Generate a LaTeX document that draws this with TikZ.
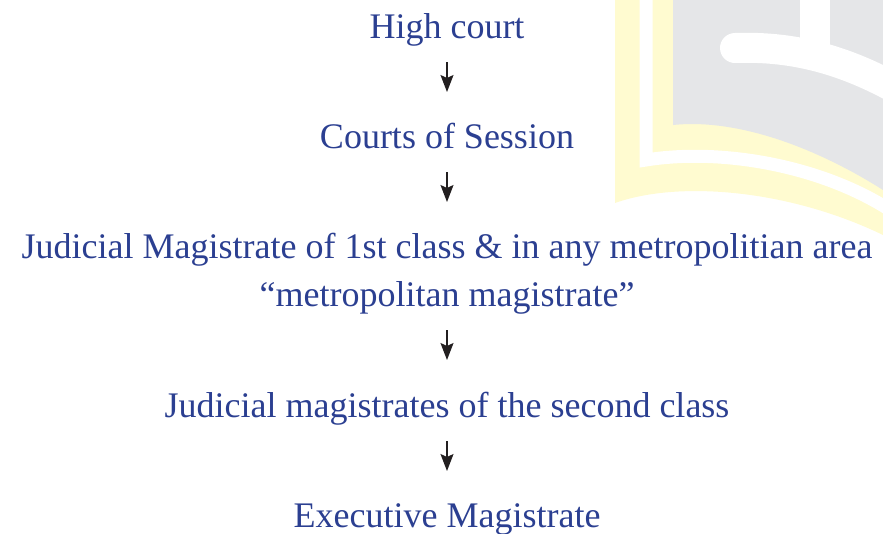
\documentclass[tikz,border=0pt]{standalone}
\usepackage{fontspec}
\setmainfont{Liberation Serif}
\usetikzlibrary{arrows.meta}
\definecolor{textblue}{RGB}{43,63,145}
\definecolor{arrowdark}{RGB}{35,31,32}
\definecolor{wmgray}{RGB}{229,230,232}
\definecolor{wmyellow}{RGB}{255,251,208}
\begin{document}
\begin{tikzpicture}[x=1pt,y=-1pt,
  level/.style={inner sep=0pt,anchor=base,text=textblue,font=\fontsize{36}{48}\selectfont,align=center},
  down/.style={draw=arrowdark,line width=1.4pt,-{Stealth[length=17pt,width=13pt,inset=3pt]}}]
\useasboundingbox (0,0) rectangle (883,533);
% faint emblem in the upper right corner
\begin{scope}
  \clip (0,0) rectangle (883,533);
  \fill[wmyellow] (615,0) -- (615,203) .. controls (680,180) and (790,190) .. (883,235) -- (883,0) -- cycle;
  \draw[white,line width=13pt] (646,-5) -- (646,160) .. controls (720,148) and (820,165) .. (890,210);
  \fill[wmgray] (673,0) -- (673,125) .. controls (740,118) and (820,150) .. (883,190) -- (883,0) -- cycle;
  \draw[white,line width=30pt,line cap=round] (735,48) .. controls (790,46) and (840,58) .. (895,88);
  \fill[white] (800,-1) rectangle (830,50);
\end{scope}
% court hierarchy; a two-line node sits on the baseline of its last line
\node[level] (hc) at (447,38) {High court};
\node[level] (cs) at (447,148) {Courts of Session};
\node[level] (jm1) at (447,306) {Judicial Magistrate of 1st class \& in any metropolitian area\\``metropolitan magistrate''};
\node[level] (jm2) at (447,417) {Judicial magistrates of the second class};
\node[level] (em) at (447,527) {Executive Magistrate};
\draw[down] ([yshift=-24pt]hc.base) -- ([yshift=56pt]cs.base);
\draw[down] ([yshift=-24pt]cs.base) -- ([yshift=104pt]jm1.base);
\draw[down] ([yshift=-24pt]jm1.base) -- ([yshift=57pt]jm2.base);
\draw[down] ([yshift=-24pt]jm2.base) -- ([yshift=56pt]em.base);
\end{tikzpicture}
\end{document}
